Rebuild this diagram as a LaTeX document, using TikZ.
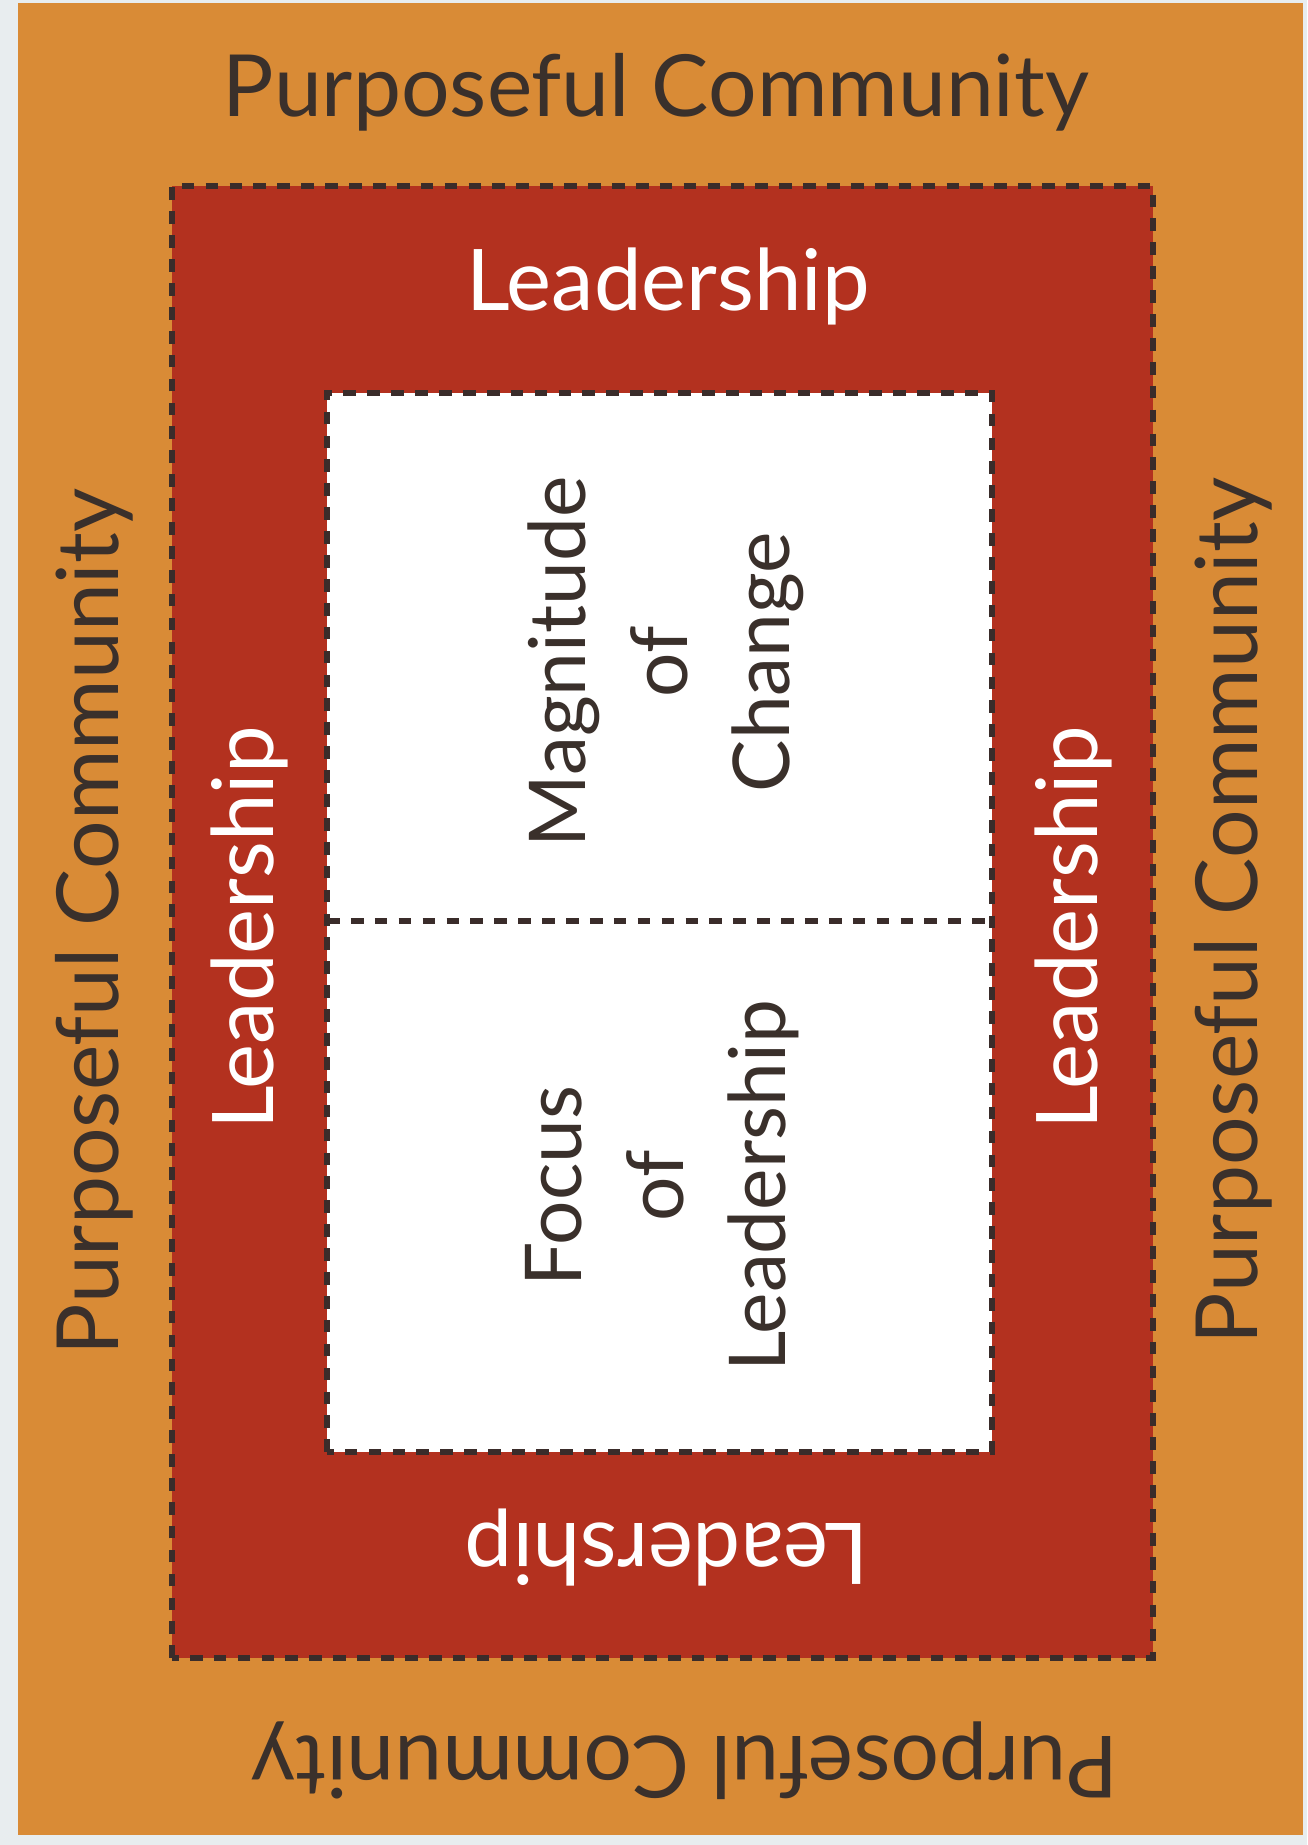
\documentclass[tikz,border=0pt]{standalone}
\usepackage{fontspec}
\setmainfont{Lato}
\definecolor{pagebg}{HTML}{E8EDEF}
\definecolor{community}{HTML}{D98B36}
\definecolor{leader}{HTML}{B3311F}
\definecolor{ink}{HTML}{3A302B}
\definecolor{edge}{HTML}{3A2C2A}
\tikzset{
	band/.style={draw=edge, line width=1.5pt, dash pattern=on 3.6pt off 3.2pt},
	outerlabel/.style={text=ink, font=\fontsize{24.4}{30}\selectfont},
	leadlabel/.style={text=white, font=\fontsize{24.2}{30}\selectfont},
	corelabel/.style={text=ink, align=center, font=\fontsize{22.3}{29}\selectfont, rotate=90}
}
\begin{document}
\begin{tikzpicture}
		\fill[pagebg] (0, 0) rectangle (13.07, 18.45);
		\fill[community] (0.18, 0.10) rectangle (13.03, 18.42);
		\filldraw[band, fill=leader] (1.72, 1.87) rectangle (11.53, 16.59);
		\filldraw[band, fill=white] (3.27, 3.93) rectangle (9.92, 14.52);
		\coordinate (splitL) at (3.27, 9.24);
		\coordinate (splitR) at (9.92, 9.24);
		\draw[band] (splitL) -- (splitR);
		% outer band
		\node[outerlabel] (pcTop) at (6.56, 17.53) {Purposeful Community};
		\node[outerlabel, rotate=180] (pcBottom) at (6.85, 0.84) {Purposeful Community};
		\node[outerlabel, rotate=90] (pcLeft) at (0.94, 9.23) {Purposeful Community};
		\node[outerlabel, rotate=90] (pcRight) at (12.33, 9.34) {Purposeful Community};
		% leadership band
		\node[leadlabel] (ldTop) at (6.68, 15.59) {Leadership};
		\node[leadlabel, rotate=180] (ldBottom) at (6.67, 2.97) {Leadership};
		\node[leadlabel, rotate=90] (ldLeft) at (2.49, 9.17) {Leadership};
		\node[leadlabel, rotate=90] (ldRight) at (10.73, 9.17) {Leadership};
		% core
		\node[corelabel] (change) at (6.66, 11.83) {Magnitude\\of\\Change};
		\node[corelabel] (focus) at (6.62, 6.59) {Focus\\of\\Leadership};
	\end{tikzpicture}
\end{document}
